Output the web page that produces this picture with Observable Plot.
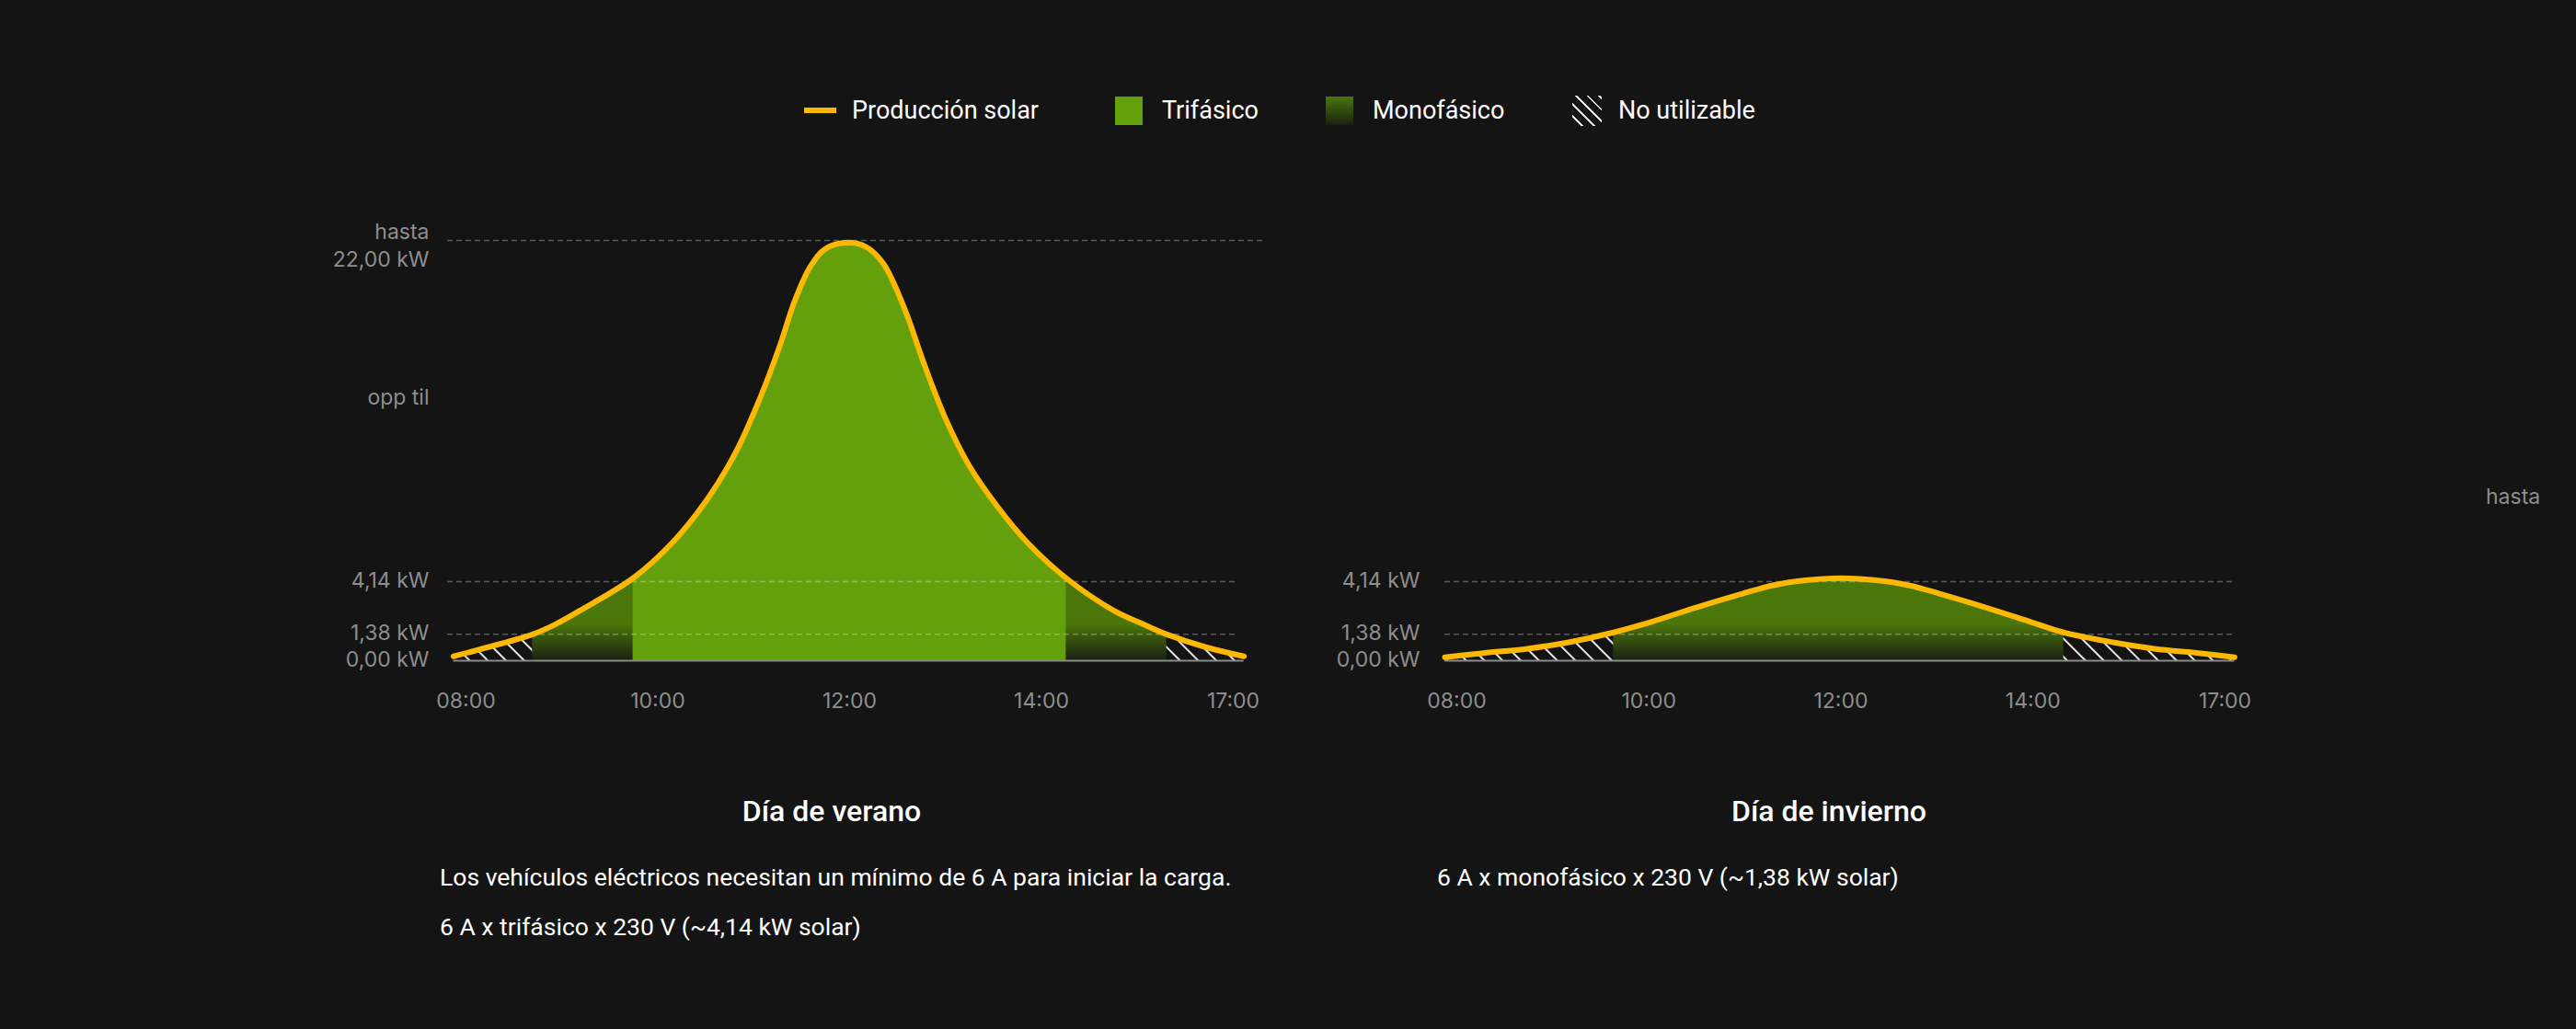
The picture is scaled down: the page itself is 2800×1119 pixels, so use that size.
<!DOCTYPE html>
<html>
<head>
<meta charset="utf-8">
<script src="https://cdn.jsdelivr.net/npm/d3@7"></script>
<script src="https://cdn.jsdelivr.net/npm/@observablehq/plot@0.6"></script>
<style>
  html, body { margin: 0; padding: 0; background: #141414; }
  #page { position: relative; width: 2800px; height: 1119px; background: #141414; overflow: hidden; font-family: Roboto, sans-serif; color: #ffffff; }
  .chart { position: absolute; top: 0; }
  .legend-item { position: absolute; top: 100px; height: 40px; display: flex; align-items: center; font-size: 27px; white-space: nowrap; }
  .sw-line { width: 35px; height: 6px; margin-right: 17px; }
  .sw-box { width: 30px; height: 31px; margin-right: 21px; }
  .sw-hatch { width: 32px; height: 33px; margin-right: 18px; }
  .title { position: absolute; width: 800px; text-align: center; font-size: 32px; font-weight: 500; line-height: 1; }
  .body { position: absolute; font-size: 26.5px; line-height: 1; white-space: nowrap; }
</style>
</head>
<body>
<div id="page">
  <div id="legend"></div>
  <div class="chart" id="summer" style="left:0px"></div>
  <div class="chart" id="winter" style="left:1400px"></div>
  <div class="title" id="t-summer" style="left:504px; top:866px"></div>
  <div class="title" id="t-winter" style="left:1588px; top:866px"></div>
  <div class="body" id="b-summer1" style="left:478px; top:941px"></div>
  <div class="body" id="b-summer2" style="left:478px; top:995px"></div>
  <div class="body" id="b-winter1" style="left:1562px; top:941px"></div>
</div>
<script>
// ---------- data ----------
const tickPos = [0, 1, 2, 3, 4];
const tickLabels = ["08:00", "10:00", "12:00", "14:00", "17:00"];

// summer day: solar production (kW) at positions along the time axis (tick units)
const summerX = [-0.065, 0.115, 0.347, 0.467, 0.595, 0.871, 1.074, 1.266, 1.41, 1.538, 1.634, 1.714, 1.794, 1.874, 2.0,
                 2.09, 2.177, 2.289, 2.385, 2.497, 2.625, 2.769, 2.929, 3.129, 3.376, 3.52, 3.653, 3.856, 4.056];
const summerKW = [0.23, 0.71, 1.38, 1.91, 2.63, 4.32, 6.16, 8.57, 10.98, 13.87, 16.43, 18.84, 20.61, 21.57, 21.89,
                  21.64, 20.77, 18.36, 15.63, 12.74, 10.18, 8.09, 6.16, 4.32, 2.63, 1.96, 1.38, 0.71, 0.23];

// winter day
const winterX = [-0.062, 0.129, 0.369, 0.576, 0.816, 1.008, 1.247, 1.487, 1.647, 1.806, 2.0,
                 2.194, 2.353, 2.513, 2.753, 2.992, 3.16, 3.424, 3.631, 3.871, 4.05];
const winterKW = [0.18, 0.39, 0.63, 0.95, 1.48, 2.02, 2.79, 3.51, 3.95, 4.20, 4.32,
                  4.20, 3.95, 3.51, 2.79, 2.02, 1.48, 0.95, 0.63, 0.39, 0.18];

// thresholds (kW)
const triThreshold = 4.14;   // 6 A x trifásico x 230 V
const monoThreshold = 1.38;  // 6 A x monofásico x 230 V

// y labels
const summerYLabelValues = [22, 13.72, 4.14, 1.38, 0];
const summerYLabels = ["hasta\n22,00 kW", "opp til", "4,14 kW", "1,38 kW", "0,00 kW"];
const winterYLabelValues = [4.14, 1.38, 0];
const winterYLabels = ["4,14 kW", "1,38 kW", "0,00 kW"];
const winterStrayLabel = ["hasta"];
const winterStrayX = [5.5];
const winterStrayY = [8.57];

// gridlines (kW) and their extent along the time axis
const summerGridY = [22, 4.14, 1.38];
const summerGridX1 = [-0.096, -0.096, -0.096];
const summerGridX2 = [4.153, 4.024, 4.024];
const winterGridY = [4.14, 1.38];
const winterGridX1 = [-0.062, -0.062];
const winterGridX2 = [4.05, 4.05];

const legendLabels = ["Producción solar", "Trifásico", "Monofásico", "No utilizable"];
const titles = ["Día de verano", "Día de invierno"];
const summerNotes = ["Los vehículos eléctricos necesitan un mínimo de 6 A para iniciar la carga.",
                     "6 A x trifásico x 230 V (~4,14 kW solar)"];
const winterNotes = ["6 A x monofásico x 230 V (~1,38 kW solar)"];

// ---------- style ----------
const C = {
  bg: "#141414",
  solar: "#ffb800",
  tri: "#64a00b",
  monoTop: "#4a760a",
  monoBottom: "#1b2111",
  hatch: "#e6e6e6",
  axis: "#8e8e8e",
  base: "#8a8a8a"
};
const gradTopKW = 1.9;
const CURVE = "catmull-rom";

// ---------- legend ----------
const legend = document.getElementById("legend");
const legendLefts = [874, 1212, 1441, 1709];
const swatches = [
  `<div class="sw-line" style="background:${C.solar}"></div>`,
  `<div class="sw-box" style="background:${C.tri}"></div>`,
  `<div class="sw-box" style="background:linear-gradient(${C.monoTop}, ${C.monoBottom})"></div>`,
  `<div class="sw-hatch" style="background:repeating-linear-gradient(45deg, transparent 0 7px, ${C.hatch} 7px 9px)"></div>`
];
legendLabels.forEach((lab, i) => {
  const d = document.createElement("div");
  d.className = "legend-item";
  d.style.left = legendLefts[i] + "px";
  d.innerHTML = swatches[i] + `<span>${lab}</span>`;
  legend.appendChild(d);
});

document.getElementById("t-summer").textContent = titles[0];
document.getElementById("t-winter").textContent = titles[1];
document.getElementById("b-summer1").textContent = summerNotes[0];
document.getElementById("b-summer2").textContent = summerNotes[1];
document.getElementById("b-winter1").textContent = winterNotes[0];

// ---------- charts ----------
function chart({prefix, xs, kws, regions, gridY, gridX1, gridX2, yVals, yLabs, extra, width, marginLeft, marginRight}) {
  const rows = xs.map((x, i) => ({x, kw: kws[i]}));
  const grid = gridY.map((y, i) => ({y, x1: gridX1[i], x2: gridX2[i]}));
  const ylab = yVals.map((v, i) => ({v, label: yLabs[i]}));
  const xExtent = d3.extent(xs);
  // area layers, in drawing order: hatch (whole curve), then each charging region
  const layers = [["hatch", null], ...regions];
  const marks = layers.map(([name]) =>
    Plot.areaY(rows, {x: "x", y: "kw", curve: CURVE, fill: name === "tri" ? C.tri : C.monoTop})
  );
  const labelStyle = {x: () => 0, y: "v", text: "label", textAnchor: "end", dx: -40, fill: C.axis, fontSize: 23, lineAnchor: "middle", lineHeight: 1.3};
  marks.push(
    Plot.ruleY(grid, {y: "y", x1: "x1", x2: "x2", stroke: "#ffffff", strokeOpacity: 0.3, strokeWidth: 1.5, strokeDasharray: "6,4"}),
    Plot.ruleY([0], {x1: xExtent[0], x2: xExtent[1], stroke: C.base, strokeWidth: 2}),
    Plot.line(rows, {x: "x", y: "kw", curve: CURVE, stroke: C.solar, strokeWidth: 6}),
    Plot.text(tickPos, {x: d => d, y: () => 0, text: (d, i) => tickLabels[i], dy: 44, fill: C.axis, fontSize: 23, lineAnchor: "middle"}),
    Plot.text(ylab.filter(d => !d.label.includes("\n")), {...labelStyle, dy: -3}),
    Plot.text(ylab.filter(d => d.label.includes("\n")), {...labelStyle, dy: 4})
  );
  if (extra) marks.push(Plot.text(extra, {x: "x", y: "v", text: "label", fill: C.axis, fontSize: 23, lineAnchor: "middle"}));
  const svg = Plot.plot({
    width, height: 800,
    marginLeft, marginRight, marginTop: 261, marginBottom: 82,
    x: {domain: [0, 4], axis: null},
    y: {domain: [0, 22], axis: null},
    style: {background: "transparent", color: C.axis, fontFamily: "Inter, sans-serif", fontSize: "23px", overflow: "visible"},
    marks
  });

  // gradient, hatch pattern and clip regions built from the plot's own scales
  const sx = svg.scale("x"), sy = svg.scale("y");
  const X = d3.scaleLinear(sx.domain, sx.range), Y = d3.scaleLinear(sy.domain, sy.range);
  const root = d3.select(svg);
  const defs = root.insert("defs", ":first-child");
  const g = defs.append("linearGradient").attr("id", prefix + "-grad")
    .attr("gradientUnits", "userSpaceOnUse")
    .attr("x1", 0).attr("x2", 0)
    .attr("y1", Y(gradTopKW)).attr("y2", Y(0));
  g.append("stop").attr("offset", 0).attr("stop-color", C.monoTop);
  g.append("stop").attr("offset", 1).attr("stop-color", C.monoBottom);
  const p = defs.append("pattern").attr("id", prefix + "-hatch")
    .attr("patternUnits", "userSpaceOnUse")
    .attr("width", 14).attr("height", 14)
    .attr("patternTransform", "rotate(-45)");
  p.append("line").attr("x1", 7).attr("x2", 7).attr("y1", -1).attr("y2", 15)
    .attr("stroke", C.hatch).attr("stroke-width", 2);

  const areaGroups = root.selectAll('g[aria-label="area"]').nodes();
  layers.forEach(([name, thr], i) => {
    const grp = d3.select(areaGroups[i]);
    let fill;
    if (name === "hatch") {
      fill = `url(#${prefix}-hatch)`;
    } else {
      const inside = rows.filter(r => r.kw >= thr - 1e-9).map(r => r.x);
      const x0 = X(d3.min(inside)), x1 = X(d3.max(inside));
      defs.append("clipPath").attr("id", `${prefix}-clip-${name}`)
        .append("rect").attr("x", x0).attr("y", 0)
        .attr("width", x1 - x0).attr("height", 800);
      grp.attr("clip-path", `url(#${prefix}-clip-${name})`);
      fill = name === "tri" ? C.tri : `url(#${prefix}-grad)`;
    }
    grp.attr("fill", fill);
    grp.selectAll("path").attr("fill", fill);
  });
  return svg;
}

document.getElementById("summer").appendChild(chart({
  prefix: "s", xs: summerX, kws: summerKW,
  regions: [["mono", monoThreshold], ["tri", triThreshold]],
  gridY: summerGridY, gridX1: summerGridX1, gridX2: summerGridX2,
  yVals: summerYLabelValues, yLabs: summerYLabels,
  width: 1400, marginLeft: 506, marginRight: 60
}));

document.getElementById("winter").appendChild(chart({
  prefix: "w", xs: winterX, kws: winterKW,
  regions: [["mono", monoThreshold]],
  gridY: winterGridY, gridX1: winterGridX1, gridX2: winterGridX2,
  yVals: winterYLabelValues, yLabs: winterYLabels,
  extra: winterStrayLabel.map((label, i) => ({label, x: winterStrayX[i], v: winterStrayY[i]})),
  width: 1400, marginLeft: 183, marginRight: 382
}));
</script>
</body>
</html>
